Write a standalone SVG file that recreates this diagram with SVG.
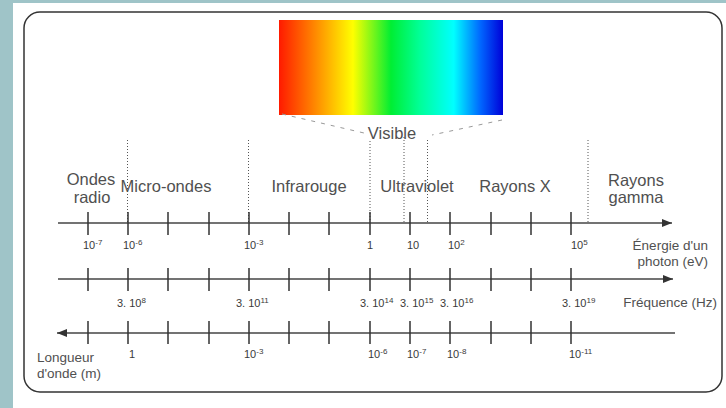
<svg xmlns="http://www.w3.org/2000/svg" width="726" height="408" viewBox="0 0 726 408">
<defs>
<linearGradient id="spec" x1="0" y1="0" x2="1" y2="0">
<stop offset="0" stop-color="#ff1a00"/>
<stop offset="0.14" stop-color="#ff7a00"/>
<stop offset="0.33" stop-color="#ffff00"/>
<stop offset="0.5" stop-color="#00ee33"/>
<stop offset="0.63" stop-color="#00ff99"/>
<stop offset="0.78" stop-color="#00ffff"/>
<stop offset="0.9" stop-color="#0066ff"/>
<stop offset="1" stop-color="#0000d8"/>
</linearGradient>
<marker id="arr" viewBox="0 0 10 8" refX="10" refY="4" markerWidth="10" markerHeight="8" markerUnits="userSpaceOnUse" orient="auto">
<path d="M0,0 L10,4 L0,8 Z" fill="#333"/>
</marker>
</defs>
<style>
.ax{stroke:#444;stroke-width:1.6;fill:none}
.tk{stroke:#333;stroke-width:1.5}
.dot{stroke:#555;stroke-width:1;stroke-dasharray:1,2}
.lb{font-family:"Liberation Sans",Arial,sans-serif;font-size:16.5px;fill:#505050}
.end{font-family:"Liberation Sans",Arial,sans-serif;font-size:13.5px;fill:#505050}
.n{font-family:"Liberation Sans",Arial,sans-serif;font-size:11px;fill:#3a3a3a}
.sup{font-size:8px}
</style>
<rect width="726" height="408" fill="#ffffff"/>
<rect x="0" y="0" width="726" height="3" fill="#9fc4c8"/>
<rect x="0" y="0" width="13" height="408" fill="#9fc4c8"/>
<rect id="panel" x="24" y="12" width="698" height="380" rx="16" fill="#ffffff" stroke="#333" stroke-width="1.5"/>

<g id="spectrum">
<rect x="279" y="20" width="224" height="95" fill="url(#spec)"/>
<line x1="282" y1="114" x2="364" y2="133" stroke="#999" stroke-width="1" stroke-dasharray="4,6"/>
<line x1="502" y1="120" x2="432" y2="135" stroke="#999" stroke-width="1" stroke-dasharray="4,6"/>
<text class="lb" x="392" y="139" text-anchor="middle">Visible</text>
</g>

<g id="dividers">
<line class="dot" x1="127.5" y1="140" x2="127.5" y2="222"/>
<line class="dot" x1="248.5" y1="140" x2="248.5" y2="222"/>
<line class="dot" x1="370" y1="141" x2="370" y2="222"/>
<line class="dot" x1="404" y1="137" x2="404" y2="224"/>
<line class="dot" x1="427.5" y1="140" x2="427.5" y2="224"/>
<line class="dot" x1="588" y1="140" x2="588" y2="222"/>
</g>

<g id="regions">
<text class="lb" x="91" y="185" text-anchor="middle">Ondes</text>
<text class="lb" x="92" y="203" text-anchor="middle">radio</text>
<text class="lb" x="166" y="192" text-anchor="middle">Micro-ondes</text>
<text class="lb" x="309" y="192" text-anchor="middle">Infrarouge</text>
<text class="lb" x="417" y="192" text-anchor="middle">Ultraviolet</text>
<text class="lb" x="515" y="192" text-anchor="middle">Rayons X</text>
<text class="lb" x="636" y="186" text-anchor="middle">Rayons</text>
<text class="lb" x="636" y="203" text-anchor="middle">gamma</text>
</g>

<g id="connectors">
<line class="ax" x1="58" y1="223" x2="672" y2="223" marker-end="url(#arr)"/>
<line class="ax" x1="58" y1="279" x2="673" y2="279" marker-end="url(#arr)"/>
<line class="ax" x1="675" y1="333" x2="57" y2="333" marker-end="url(#arr)"/>
</g>

<g id="ticks">
<path class="tk" d="M88,212V235M128,212V235M168,212V235M209,212V235M249,212V235M289,212V235M329,212V235M370,212V235M410,212V235M450,212V235M491,212V235M531,212V235M571,212V235"/>
<path class="tk" d="M88,268V291M128,268V291M168,268V291M209,268V291M249,268V291M289,268V291M329,268V291M370,268V291M410,268V291M450,268V291M491,268V291M531,268V291M571,268V291"/>
<path class="tk" d="M88,321V344M128,321V344M168,321V344M209,321V344M249,321V344M289,321V344M329,321V344M370,321V344M410,321V344M450,321V344M491,321V344M531,321V344M571,321V344"/>
</g>

<g id="energy-labels">
<text class="n" x="83" y="249">10<tspan class="sup" dy="-4">-7</tspan></text>
<text class="n" x="123" y="249">10<tspan class="sup" dy="-4">-6</tspan></text>
<text class="n" x="244" y="249">10<tspan class="sup" dy="-4">-3</tspan></text>
<text class="n" x="370" y="249" text-anchor="middle">1</text>
<text class="n" x="407" y="249">10</text>
<text class="n" x="448" y="249">10<tspan class="sup" dy="-4">2</tspan></text>
<text class="n" x="571" y="249">10<tspan class="sup" dy="-4">5</tspan></text>
<text class="end" x="708" y="250" text-anchor="end">Énergie d'un</text>
<text class="end" x="708" y="266" text-anchor="end">photon (eV)</text>
</g>

<g id="frequency-labels">
<text class="n" x="117" y="307">3. 10<tspan class="sup" dy="-4">8</tspan></text>
<text class="n" x="236" y="307">3. 10<tspan class="sup" dy="-4">11</tspan></text>
<text class="n" x="360" y="307">3. 10<tspan class="sup" dy="-4">14</tspan></text>
<text class="n" x="400" y="307">3. 10<tspan class="sup" dy="-4">15</tspan></text>
<text class="n" x="440" y="307">3. 10<tspan class="sup" dy="-4">16</tspan></text>
<text class="n" x="562" y="307">3. 10<tspan class="sup" dy="-4">19</tspan></text>
<text class="end" x="717" y="307" text-anchor="end">Fréquence (Hz)</text>
</g>

<g id="wavelength-labels">
<text class="n" x="132" y="358" text-anchor="middle">1</text>
<text class="n" x="244" y="358">10<tspan class="sup" dy="-4">-3</tspan></text>
<text class="n" x="368" y="358">10<tspan class="sup" dy="-4">-6</tspan></text>
<text class="n" x="407" y="358">10<tspan class="sup" dy="-4">-7</tspan></text>
<text class="n" x="447" y="358">10<tspan class="sup" dy="-4">-8</tspan></text>
<text class="n" x="569" y="358">10<tspan class="sup" dy="-4">-11</tspan></text>
<text class="end" x="37" y="362">Longueur</text>
<text class="end" x="37" y="378">d'onde (m)</text>
</g>
</svg>
